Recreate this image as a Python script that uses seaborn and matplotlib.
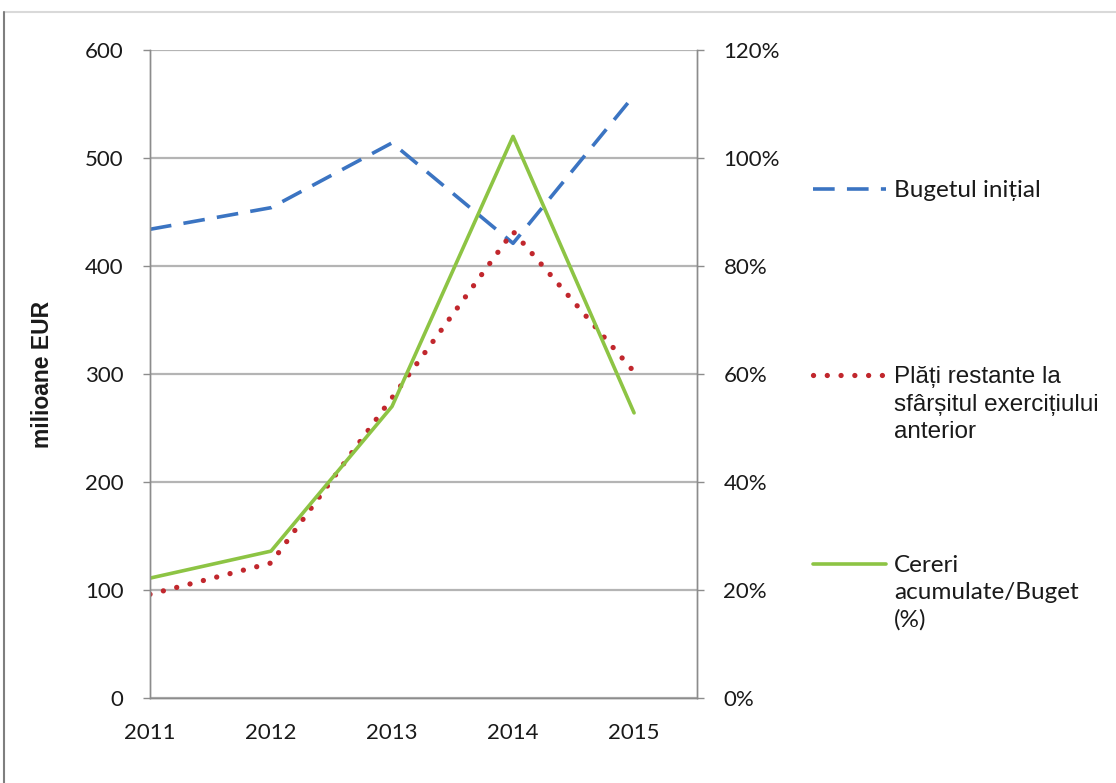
import pandas as pd
import numpy as np
import matplotlib.pyplot as plt
import seaborn as sns
from matplotlib.lines import Line2D
from matplotlib.ticker import PercentFormatter

# Settings
sns.set_theme(style="white")
plt.rcParams["font.family"] = ["Lato", "DejaVu Sans"]

# Data
years = [2011, 2012, 2013, 2014, 2015]
buget_initial = [434, 454, 514, 421, 558]          # milioane EUR
plati_restante = [96, 125, 278, 432, 302]          # milioane EUR
cereri_buget = [0.222, 0.272, 0.540, 1.040, 0.528]  # share of budget

label_buget = "Bugetul inițial"
label_plati = ["Plăți restante la", "sfârșitul exercițiului", "anterior"]
label_cereri = ["Cereri", "acumulate/Buget", "(%)"]

c_blue = "#3b74c2"
c_red = "#c1272d"
c_green = "#8dc444"
c_grid = "#b4b4b4"
c_axis = "#8c8c8c"
c_text = "#1a1a1a"

df = pd.DataFrame({"an": years, "buget": buget_initial,
                   "plati": plati_restante, "cereri": cereri_buget})

fig = plt.figure(figsize=(11.16, 7.83), dpi=100)
ax = fig.add_axes([150 / 1116, 1 - 698 / 783, 547 / 1116, 648 / 783])
ax2 = ax.twinx()

# ------------------------
# Lines
# ------------------------
sns.lineplot(data=df, x="an", y="buget", ax=ax, color=c_blue, lw=2.6,
             linestyle=(0, (6.0, 3.4)))
sns.lineplot(data=df, x="an", y="plati", ax=ax, color=c_red, lw=3.8,
             linestyle=(0, (0.01, 2.6)), dash_capstyle="round")
sns.lineplot(data=df, x="an", y="cereri", ax=ax2, color=c_green, lw=2.6)

# ------------------------
# Axes
# ------------------------
ax.set_xlim(2011, 2015.52)
ax.set_ylim(0, 600)
ax.set_yticks(np.arange(0, 601, 100))
ax.set_xticks(years)
ax.set_xticklabels([str(y) for y in years])
ax2.set_ylim(0, 1.2)
ax2.set_yticks(np.arange(0, 1.21, 0.2))
ax2.yaxis.set_major_formatter(PercentFormatter(1.0, decimals=0))

ax.yaxis.grid(True, color=c_grid, lw=1.6)
ax.set_axisbelow(True)
ax.set_xlabel("")
ax.set_ylabel("milioane EUR", fontsize=16.5, fontweight="bold", color=c_text,
              family=["Liberation Sans", "DejaVu Sans"], labelpad=22)
ax2.set_ylabel("")

for a in (ax, ax2):
    a.spines["top"].set_visible(False)
    for side in ("left", "right", "bottom"):
        a.spines[side].set_color(c_axis)
        a.spines[side].set_linewidth(1.0)
    a.tick_params(colors=c_text, labelsize=16, length=5, width=1.0,
                  color=c_axis, pad=14)
ax.tick_params(axis="x", pad=13)

# ------------------------
# Legend (first line of each label next to its handle)
# ------------------------
blank = Line2D([], [], linestyle="none")
handles = [Line2D([], [], color=c_blue, lw=2.6, linestyle=(0, (6.0, 3.4)))]
labels = [label_buget]
handles += [blank] * 6
labels += [" "] * 6
handles += [Line2D([], [], color=c_red, lw=3.8, linestyle=(0, (0.01, 2.6)),
                   dash_capstyle="round"), blank, blank]
labels += label_plati
handles += [blank] * 4
labels += [" "] * 4
handles += [Line2D([], [], color=c_green, lw=2.6), blank, blank]
labels += label_cereri

leg = fig.legend(handles, labels, loc="upper left",
                 bbox_to_anchor=(813 / 1116, 1 - 180 / 783),
                 frameon=False, fontsize=17.5, handlelength=3.0,
                 handletextpad=0.33, labelspacing=0.23, borderaxespad=0,
                 borderpad=0)
for t in leg.get_texts():
    if t.get_text() in label_plati:
        t.set_family(["Liberation Sans", "DejaVu Sans"])
    t.set_color(c_text)

# Frame lines around the chart area
fig.add_artist(Line2D([4 / 1116, 1], [1 - 12 / 783, 1 - 12 / 783],
                      color="#d9d9d9", lw=1.5, transform=fig.transFigure))
fig.add_artist(Line2D([4 / 1116, 4 / 1116], [0, 1 - 12 / 783],
                      color="#7f7f7f", lw=1.5, transform=fig.transFigure))

fig.savefig("out.png", dpi=100)
